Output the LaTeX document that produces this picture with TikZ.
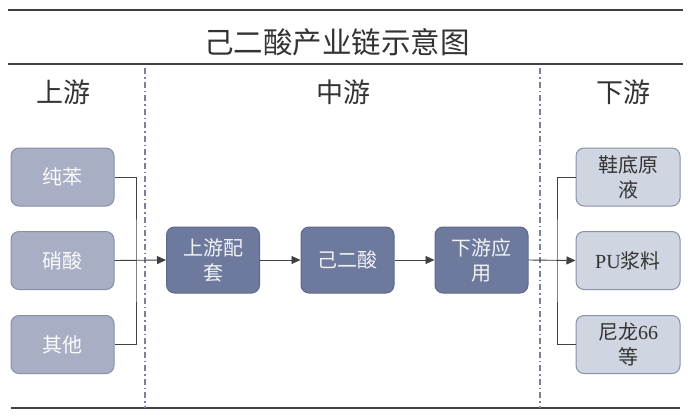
\documentclass[tikz,border=0pt]{standalone}
\usepackage{fontspec}
\setmainfont{Liberation Serif}
\newfontfamily\cjk{Noto Sans CJK SC}
\usetikzlibrary{arrows.meta}
\definecolor{upfill}{HTML}{A8AFC4}
\definecolor{upedge}{HTML}{8690A8}
\definecolor{midfill}{HTML}{6E7A9D}
\definecolor{midedge}{HTML}{5E6A8C}
\definecolor{dnfill}{HTML}{D0D5E2}
\definecolor{dnedge}{HTML}{8892A8}
\definecolor{linec}{HTML}{404040}
\definecolor{dashc}{HTML}{7A8299}
\tikzset{
  upbox/.style={draw=upedge, line width=1pt, fill=upfill, rounded corners=8pt,
    minimum width=103pt, minimum height=58pt, text=white!95!upfill, align=center,
    font=\cjk\fontsize{20}{25}\selectfont},
  midbox/.style={draw=midedge, line width=1pt, fill=midfill, rounded corners=8pt,
    minimum width=93pt, minimum height=66pt, text=white!90!midfill, align=center,
    font=\cjk\fontsize{20}{25}\selectfont},
  dnbox/.style={draw=dnedge, line width=1pt, fill=dnfill, rounded corners=8pt,
    minimum width=104pt, minimum height=58pt, text=black!80, align=center,
    font=\cjk\fontsize{20}{25}\selectfont},
  conn/.style={draw=linec, line width=0.9pt},
  arr/.style={conn, -{Triangle[length=9pt,width=8pt]}},
  rule/.style={draw=linec, line width=1.2pt},
  divider/.style={draw=dashc, line width=1.3pt, dash pattern=on 6pt off 3pt on 1.5pt off 3pt},
  head/.style={text=black!80, font=\cjk\fontsize{27}{30}\selectfont},
}
\begin{document}
\begin{tikzpicture}[x=1pt,y=-1pt]
\useasboundingbox (0,0) rectangle (690,415);
\fill[white] (0,0) rectangle (690,415);
% rules
\draw[rule] (8,10) -- (683,10);
\draw[rule] (8,64) -- (683,64);
\draw[rule] (11,408) -- (680,408);
% dividers
\draw[divider] (145,68) -- (145,408);
\draw[divider] (540,68) -- (540,408);
% title and headings
\node[head, font=\cjk\fontsize{29.5}{31}\selectfont] (title) at (337,42) {己二酸产业链示意图};
\node[head] (hup) at (63,92) {上游};
\node[head] (hmid) at (343,92) {中游};
\node[head] (hdn) at (623,92) {下游};
% upstream
\node[upbox] (a1) at (62.5,177) {纯苯};
\node[upbox] (a2) at (62.5,260.5) {硝酸};
\node[upbox] (a3) at (62.5,344.5) {其他};
% midstream
\node[midbox] (m1) at (213,260) {上游配\\套};
\node[midbox] (m2) at (347.5,260) {己二酸};
\node[midbox] (m3) at (481.5,260) {下游应\\用};
% downstream
\node[dnbox] (d1) at (628,177) {鞋底原\\液};
\node[dnbox] (d2) at (628,260.5) {{\rmfamily PU}浆料};
\node[dnbox] (d3) at (628,344.5) {尼龙{\rmfamily 66}\\等};
% connectors
\coordinate (jl) at (136,260.5);
\coordinate (jr) at (557,260.5);
\draw[conn] (a1.east) -| (jl) |- (a3.east);
\draw[arr] (a2.east) -- (m1.west);
\draw[arr] (m1.east) -- (m2.west);
\draw[arr] (m2.east) -- (m3.west);
\draw[conn] (d1.west) -| (jr) |- (d3.west);
\draw[arr] (m3.east) -- (d2.west);
\end{tikzpicture}
\end{document}
